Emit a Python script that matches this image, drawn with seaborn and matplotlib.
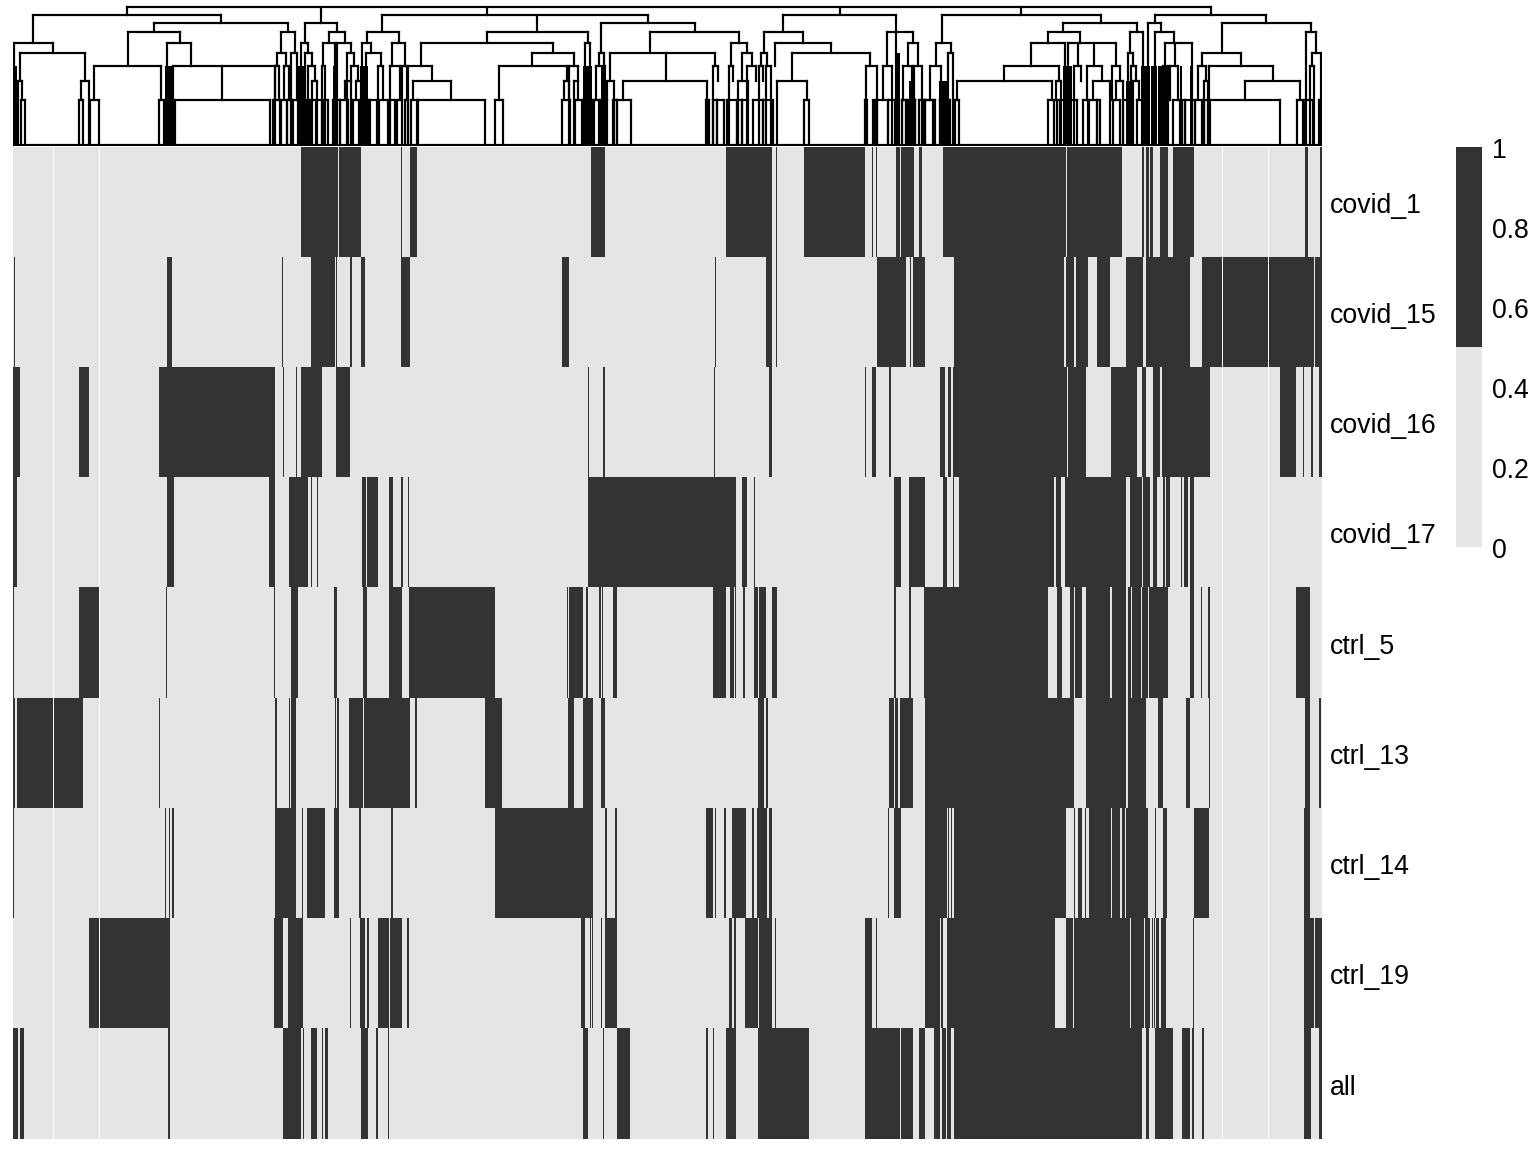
import numpy as np, pandas as pd
import matplotlib
matplotlib.use("Agg")
import matplotlib.pyplot as plt
from matplotlib.colors import ListedColormap
from matplotlib.collections import LineCollection
from matplotlib.transforms import ScaledTranslation
import seaborn as sns

plt.rcParams['font.family'] = ['Liberation Sans', 'DejaVu Sans']

SAMPLES = ["covid_1", "covid_15", "covid_16", "covid_17", "ctrl_5", "ctrl_13", "ctrl_14", "ctrl_19", "all"]
COL_START, COL_END = 13, 1322
# runs of present clusters along the clustered column order
covid_1 = [(301,338),(339,361),(401.3,402),(410,417),(591,605),(726,772),(776.3,777),(804,865),(872.3,873),(876,877),(896,900),(901.3,914),(919,922),(943,1066),(1067,1122),(1142.3,1144.3),(1146.3,1149.3),(1150.3,1153),(1160,1168),(1173,1194),(1305,1308),(1320,1322)]
covid_15 = [(14,15),(167,172),(282.3,283.3),(311,335),(336,337),(350.3,352),(361,365),(401.3,410),(562,569),(715.3,716),(766,772),(776.3,777),(877,906),(910.3,911),(913,925),(954,1064),(1066,1074),(1076,1088),(1097,1110),(1126,1143),(1146,1190),(1202,1314),(1315,1322)]
covid_16 = [(13,20),(79,89),(159,275),(283.3,284),(296,297),(301,322),(336,350),(588.3,589),(603,605),(714.3,715),(769,772),(865.3,866),(872,876),(889,891),(940,945),(948,951),(952.7,1067),(1068,1086),(1111,1137),(1142,1146),(1153,1160),(1162,1210),(1280,1296),(1303.3,1304),(1311,1313),(1319,1322)]
covid_17 = [(13,17),(167,174),(269,275),(289,308),(311,312),(317,318),(362,366),(367,378),(389,393),(401,403),(408,409),(588,736),(742,747),(754,755),(894,901),(909,925),(943,947),(953,954),(959,1054),(1056,1061),(1065,1126),(1130,1142),(1143,1150),(1153,1157),(1163,1165),(1166,1170),(1181.3,1182.3),(1184,1188),(1190,1194)]
ctrl_5 = [(13.3,14),(79,99),(166,166.7),(274.3,275),(291,298),(334,337),(363,367),(389,402),(409,495),(567,568),(569,583),(586,588),(599.3,601.3),(602,603),(613,617),(713,726),(730,734),(735,736),(743,745),(754,758),(759,764.7),(765.3,766.3),(772,777),(894,896),(909,911),(924,1048),(1057,1062),(1070,1074),(1075,1082),(1086,1110),(1112,1126),(1128,1131),(1132,1141),(1142,1148),(1149,1168),(1190,1194),(1201,1202),(1208,1210),(1296,1310)]
ctrl_13 = [(13.3,15.3),(17,83),(159,160),(275,277),(289,290),(291,296),(335,336),(337,339),(349,363),(364,410),(415,417),(485,502),(568,574),(583,593),(601,605),(758,764),(766,768),(889,894),(895,898),(900,913),(925,1074),(1086,1126.3),(1128,1146),(1158,1163),(1186,1190),(1209,1210),(1305,1310),(1319,1321)]
ctrl_14 = [(13.3,14),(165,166),(169,170),(172,174),(275,296),(302,303),(307,325),(334,339),(359.3,361),(391,393),(495,593),(605,607),(615,617),(706,713),(715,716),(724,726),(732,746),(752,754),(757,767.3),(769,772),(888,889),(894,901),(925,947),(948,949),(951,952),(954,1066),(1074,1075),(1078,1082),(1085,1086),(1089,1111),(1112,1120),(1122,1125),(1126,1148),(1155,1156),(1163,1167),(1194,1209),(1304,1310)]
ctrl_19 = [(89,170),(274,283),(288,303),(350,351),(360,365),(367,369),(378,389),(390,402),(407,409),(581,585),(590,591),(591.7,593),(601.3,602),(605,617),(729,732),(734,736),(745,758),(759,772),(775,776),(865,872),(876,877),(925,940),(941,943),(947,1055),(1066,1073),(1074,1130),(1131,1144),(1145,1150),(1152,1153),(1154,1155),(1156,1159),(1161,1166),(1193,1194),(1304,1314),(1315,1322)]
all_ = [(13,18),(20,24),(168,170),(283,301),(303,304),(311,317),(322,323),(325,328),(361,368),(376,378),(388,389),(583,588),(603.3,604),(617,630),(706,708),(713,714),(726,736),(758,809),(865,900),(901,913),(919,925),(934,940),(942,946),(947,951),(954,1142),(1146,1149),(1155,1173),(1182,1190),(1192,1194),(1202,1204),(1304,1311),(1319,1322)]
RUNS = [covid_1, covid_15, covid_16, covid_17, ctrl_5, ctrl_13, ctrl_14, ctrl_19, all_]
BLOCK_SEAMS = [(53,53.67),(99,99.67),(1222.3,1223),(1268.3,1269)]

# dendrogram merge heights
LV = dict(A=138.5, B=130, C=122, D=113, E=102.5, F=92, G=79, H=64.5, I=45.5, O=0)
TREE = [
 ('A',[(127,'B'),(321,'C'),(487.3,'B'),(839.7,'B'),(1021,'B'),(1210.7,'B')]),
 ('B',[(33,'E'),(221,'C')]), ('E',[(14,'G'),(52.5,'F')]), ('F',[(19.7,'H'),(85.3,'H')]),
 ('H',[(18,'O'),(22,'I')]), ('H',[(81,'I'),(89,'O')]), ('C',[(153.7,'D'),(288.3,'D')]),
 ('D',[(127.7,'G'),(179.7,'E')]), ('G',[(94.3,'I'),(161,'I')]), ('E',[(167,'O'),(191.3,'G')]),
 ('G',[(173,'O'),(221.5,'I'),(275,'O')]), ('D',[(281.3,'F'),(294.7,'F')]), ('F',[(277.3,'G'),(286,'G')]),
 ('G',[(275,'I'),(279.3,'I')]), ('G',[(284,'I'),(288.7,'I')]), ('F',[(291.3,'O'),(296.7,'I')]),
 ('C',[(304.7,'E'),(337,'D')]), ('E',[(301,'O'),(308.3,'F')]), ('F',[(305,'O'),(311.7,'G')]),
 ('G',[(308.3,'O'),(315,'H')]), ('H',[(311.7,'O'),(317.3,'I')]), ('D',[(329,'E'),(345,'E')]),
 ('E',[(322.7,'G'),(335,'O')]), ('G',[(321.7,'O'),(325,'O')]), ('E',[(337.3,'O'),(350.7,'F')]),
 ('F',[(346.7,'O'),(354.3,'G')]), ('G',[(350.7,'H'),(358.3,'H')]), ('H',[(344.7,'I'),(351,'O')]),
 ('H',[(355.7,'I'),(361,'O')]),
 ('B',[(382.3,'D'),(537,'D'),(648,'C')]), ('D',[(366.7,'E'),(399,'E')]), ('E',[(362.3,'O'),(370.7,'F')]),
 ('F',[(366,'O'),(380.7,'G')]), ('G',[(377.7,'I'),(383.3,'I')]), ('E',[(392,'G'),(405,'G')]),
 ('G',[(390,'I'),(400,'I')]), ('G',[(402,'I'),(407,'I')]),
 ('D',[(486.7,'E'),(588,'E')]), ('E',[(420.7,'G'),(552.7,'F')]), ('G',[(408,'O'),(432,'H')]),
 ('H',[(413.3,'I'),(451,'I')]), ('F',[(532.3,'G'),(573.7,'G')]), ('G',[(499,'I'),(566.7,'H')]),
 ('H',[(564,'I'),(569.3,'O')]), ('G',[(569.3,'I'),(578.3,'H')]), ('H',[(573.7,'O'),(578.3,'I')]),
 ('E',[(585.3,'O'),(590,'O')]),
 ('C',[(601.3,'F'),(694.7,'D')]), ('F',[(599,'G'),(604,'G')]), ('G',[(596,'I'),(605,'O')]),
 ('D',[(650,'F'),(739,'E')]), ('F',[(610,'H'),(715,'G')]), ('F',[(665.7,'H')]),
 ('H',[(607.3,'I'),(614.3,'O')]), ('H',[(623.3,'I'),(707.3,'O')]), ('G',[(712.7,'O'),(718.3,'H')]),
 ('E',[(730.7,'G'),(746.7,'F')]), ('G',[(728.7,'O'),(733.3,'H')]), ('F',[(741.7,'H'),(751.7,'G')]),
 ('H',[(738.3,'O'),(748.3,'I')]), ('G',[(747,'O'),(756,'H')]),
 ('B',[(783.3,'D'),(896,'O')]), ('D',[(764,'F'),(803.3,'E')]), ('F',[(760.7,'G'),(767.3,'G')]),
 ('G',[(758.7,'O'),(763.3,'H')]), ('G',[(766,'O'),(771,'O')]), ('E',[(775,'G'),(831,'F')]),
 ('F',[(792.3,'H'),(870,'G')]), ('H',[(777.3,'O'),(806.7,'I')]), ('G',[(865.7,'O'),(876.7,'O')]),
 ('D',[(886.7,'G'),(912.7,'E')]), ('G',[(882.7,'I'),(891.7,'O')]), ('E',[(907.7,'G'),(917.7,'G')]),
 ('G',[(903,'I'),(912,'O')]), ('G',[(914,'I'),(921.7,'O')]),
 ('B',[(941.7,'E'),(1100.7,'C')]), ('E',[(935.7,'G'),(950.7,'F')]), ('G',[(930,'I'),(941.3,'O')]),
 ('F',[(947.7,'O'),(952.7,'O')]), ('C',[(1063.3,'D'),(1137.3,'D')]), ('D',[(1047.7,'E'),(1080,'E')]),
 ('E',[(1031,'G'),(1065,'O')]), ('G',[(1004,'H'),(1059.3,'H')]), ('H',[(956.7,'I'),(1051.7,'I')]),
 ('H',[(1056,'I'),(1061.3,'O')]), ('E',[(1068.3,'O'),(1077.7,'G'),(1094.3,'G'),(1116,'G')]),
 ('G',[(1074.3,'O'),(1081,'H')]), ('G',[(1087.3,'I'),(1101.7,'H')]), ('H',[(1093.3,'I'),(1110,'O')]),
 ('G',[(1111.7,'I'),(1120,'H')]), ('H',[(1116,'I'),(1123,'O')]), ('D',[(1130,'F'),(1143.3,'O')]),
 ('F',[(1128,'O'),(1132.7,'G')]), ('G',[(1131,'O'),(1136,'H')]), ('H',[(1133,'O'),(1139,'I')]),
 ('B',[(1154.7,'C'),(1266,'C')]), ('C',[(1148.3,'O'),(1160.7,'D')]), ('D',[(1155,'O'),(1174.3,'E')]),
 ('E',[(1165,'G'),(1175,'G'),(1191.7,'O')]), ('G',[(1170,'I'),(1178,'I')]), ('G',[(1163,'I'),(1168,'O')]),
 ('C',[(1221.7,'F'),(1310.7,'D')]), ('F',[(1202,'G'),(1241,'G')]), ('G',[(1198.3,'I'),(1206,'H')]),
 ('H',[(1204,'O'),(1208,'O')]), ('G',[(1209.3,'O'),(1272.7,'H')]), ('H',[(1245,'I'),(1300,'I')]),
 ('D',[(1306,'O'),(1316,'F')]), ('F',[(1311.7,'G'),(1320.7,'O')]), ('G',[(1310,'O'),(1314,'O')]),
]
I_PAIRS = [(20.7,24.7),(79,83.3),(90,99),(158.5,164),(175,270),(273.3,280),(281,286.7),(287.3,291.7),(292.7,298.3),
 (299.3,306),(310,316),(316.7,321.7),(323.3,328.3),(333.3,340),(340,348.3),(352.7,359.3),(363.3,369.3),(370,376.7),
 (379.3,388.3),(390,395),(396.7,401.7),(405,408.3),(410.7,416.7),(418,484.7),(495.3,502.7),(562,570),(574.7,581.7),
 (583.3,592.7),(594,599.3),(600,607.3),(613.3,616.7),(617.3,630.7),(706,708.7),(712.7,716.7),(717.3,724),(726.7,736.7),
 (736.7,741.7),(741.7,748.3),(752.7,763.3),(763.3,773.3),(804,809.3),(865,866.7),(873.3,875),(877.3,888.3),
 (888.3,895),(902,906),(910,915),(925,933),(940,945),(901.7,906),(908.3,915),(919.3,924),(925,935),(940,950),
 (955,959.3),(1048.3,1054),(1056.7,1060),(1060,1066.7),(1070,1076.7),(1082.7,1088.3),(1089.3,1096.7),(1096.7,1100),
 (1112.7,1120),(1123.3,1130),(1137.3,1141.7),(1172.7,1180),(1181.7,1185),(1185,1195),(1195,1201.7),(1204,1208.3),
 (1210,1280),(1296.7,1302.7),(1305,1313.3),(1319.3,1322)]
DENSE_LEAVES = [(13,17,'G'),(165,173,'G'),(298,305,'G'),(333,338,'G'),(360,368,'G'),(583,592,'G'),(600.7,606,'G'),
 (895,900,'F'),(909,914,'H'),(939,947,'H'),(1063,1072,'G'),(1126,1133,'H'),(1141,1150,'G'),(1151,1157,'G'),(1158,1167,'G'),(1180,1182,'G'),(1190,1193,'G')]

# build the binary presence matrix (3 columns per unit)
RES = 3
n_cols = (COL_END - COL_START) * RES
mat = np.zeros((len(SAMPLES), n_cols))
for r, runs in enumerate(RUNS):
    for a, b in runs:
        i0 = int(round((a - COL_START) * RES)); i1 = int(round((b - COL_START) * RES))
        mat[r, i0:max(i1, i0 + 1)] = 1
seam = np.zeros_like(mat, dtype=bool)
for a, b in BLOCK_SEAMS:
    seam[:, int(round((a - COL_START) * RES)):int(round((b - COL_START) * RES))] = True
df = pd.DataFrame(mat, index=SAMPLES)

W, H = 1536, 1152
fig = plt.figure(figsize=(8, 6), dpi=192, facecolor='white')
def axpx(l, t, r, b):
    return fig.add_axes([l / W, 1 - b / H, (r - l) / W, (b - t) / H])

ax = axpx(COL_START, 146.5, COL_END, 1138.7)
cax = axpx(1456, 147, 1482, 547)
cmap = ListedColormap(['#E5E5E5', '#333333'])
sns.heatmap(df, ax=ax, cbar_ax=cax, cmap=cmap, vmin=0, vmax=1, mask=seam,
            xticklabels=False, yticklabels=SAMPLES, linewidths=0)
ax.yaxis.tick_right()
ax.tick_params(axis='y', length=0, pad=3, labelsize=10, labelrotation=0)
ax.set_ylabel(''); ax.set_xlabel('')
cb = ax.collections[0].colorbar
cb.set_ticks([0, .2, .4, .6, .8, 1])
cb.set_ticklabels(['0', '0.2', '0.4', '0.6', '0.8', '1'])
cb.ax.tick_params(length=0, pad=3.8, labelsize=10)
cb.outline.set_visible(False)
down = ScaledTranslation(0, -1 / 192, fig.dpi_scale_trans)
for lbl in list(ax.get_yticklabels()) + list(cb.ax.get_yticklabels()):
    lbl.set_transform(lbl.get_transform() + down)

dax = axpx(COL_START, 0, COL_END, 146)
dax.set_xlim(COL_START, COL_END); dax.set_ylim(-1, 145)
dax.axis('off')
segs = []
for lev, stems in TREE:
    y = LV[lev]; xs = [s[0] for s in stems]
    if len(xs) > 1:
        segs.append([(min(xs), y), (max(xs), y)])
    for x, c in stems:
        segs.append([(x, y), (x, LV[c])])
for a, b in I_PAIRS:
    y = LV['I']
    segs += [[(a, y), (b, y)], [(a, y), (a, 0)], [(b, y), (b, 0)]]
segs.append([(COL_START, 0), (COL_END, 0)])
segs.append([(13.3, 0), (13.3, LV['G'])])
dax.add_collection(LineCollection(segs, colors='black', linewidths=0.82, capstyle='projecting'))
for a, b, lev in DENSE_LEAVES:
    dax.bar(a, LV[lev], width=b - a, align='edge', color='black', linewidth=0)

fig.savefig('out.png', dpi=192, facecolor='white')
